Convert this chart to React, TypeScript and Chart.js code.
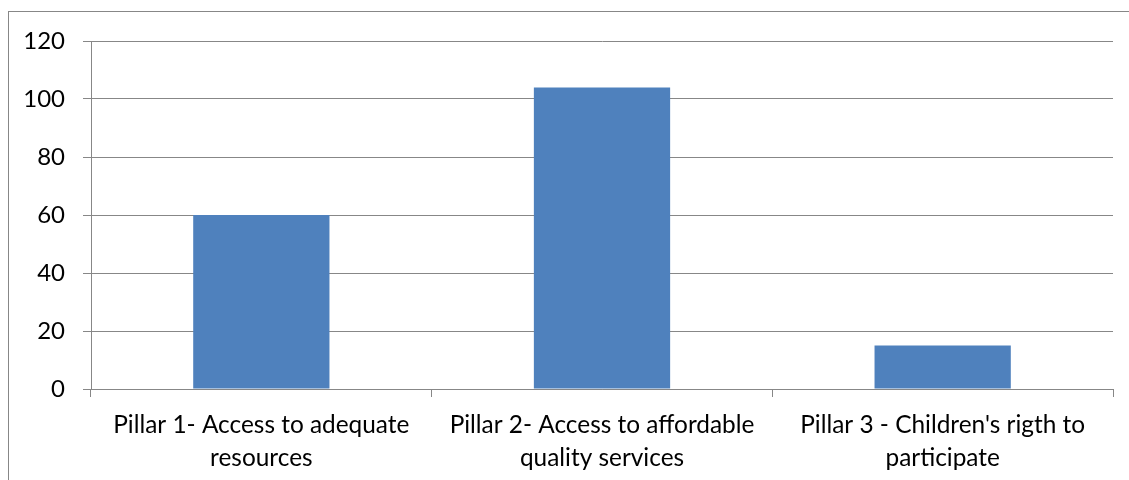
import React, { useEffect, useRef } from "react";
import { Chart, registerables } from "chart.js";

Chart.register(...registerables);

const categories: string[][] = [
  ["Pillar 1- Access to adequate", "resources"],
  ["Pillar 2- Access to affordable", "quality services"],
  ["Pillar 3 - Children's rigth to", "participate"],
];
const values: number[] = [60, 104, 15];
const yTicks: number[] = [0, 20, 40, 60, 80, 100, 120];

const FONT = "Lato, 'Open Sans', sans-serif";
const GRID = "#878787";

export default function App() {
  const canvasRef = useRef<HTMLCanvasElement | null>(null);

  useEffect(() => {
    if (!canvasRef.current) return;
    const chart = new Chart(canvasRef.current, {
      type: "bar",
      data: {
        labels: categories,
        datasets: [
          {
            data: values,
            backgroundColor: "#4f81bd",
            borderWidth: 0,
            categoryPercentage: 1,
            barPercentage: 0.4,
          },
        ],
      },
      options: {
        animation: false,
        responsive: false,
        maintainAspectRatio: false,
        layout: { autoPadding: false, padding: { top: 29, right: 16, left: 0, bottom: 0 } },
        plugins: { legend: { display: false }, tooltip: { enabled: false } },
        scales: {
          x: {
            grid: {
              drawOnChartArea: false,
              drawTicks: true,
              tickLength: 8,
              color: GRID,
              offset: true,
            },
            border: { color: GRID, width: 1 },
            ticks: {
              color: "#000",
              font: { family: FONT, size: 24.4, lineHeight: 1.35 },
              padding: 12,
              maxRotation: 0,
              autoSkip: false,
            },
            afterFit: (scale: any) => {
              scale.height = 91;
            },
          },
          y: {
            min: 0,
            max: 120,
            afterBuildTicks: (scale: any) => {
              scale.ticks = yTicks.map((v) => ({ value: v }));
            },
            grid: {
              color: GRID,
              tickLength: 8,
              drawTicks: true,
            },
            border: { color: GRID, width: 1 },
            ticks: {
              color: "#000",
              font: { family: FONT, size: 24 },
              padding: 18,
            },
            afterFit: (scale: any) => {
              // fixed axis width; the plot's top edge comes from layout padding only
              scale.width = 82;
              scale.paddingTop = 0;
              scale.paddingBottom = 0;
            },
          },
        },
      },
    });
    return () => chart.destroy();
  }, []);

  return (
    <div
      style={{
        position: "fixed",
        left: 8,
        top: 11,
        borderLeft: `1px solid ${GRID}`,
        borderTop: `1px solid ${GRID}`,
        background: "#fff",
      }}
    >
      <canvas
        ref={canvasRef}
        width={1120}
        height={468}
        style={{ display: "block", width: 1120, height: 468 }}
      />
    </div>
  );
}
